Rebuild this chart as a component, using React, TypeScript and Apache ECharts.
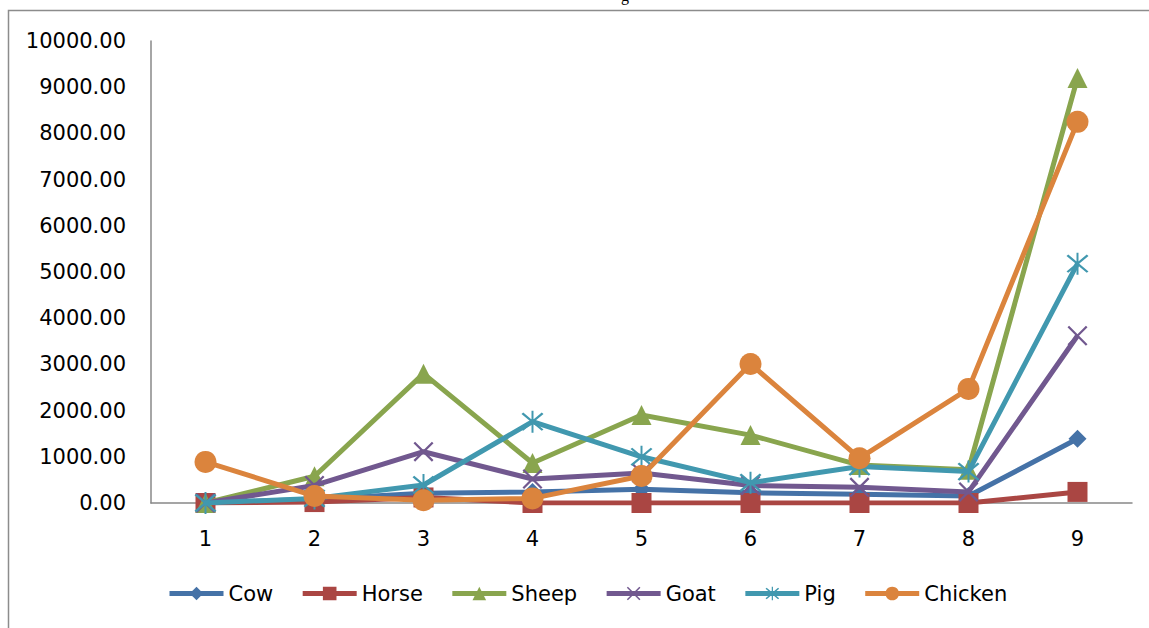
import React, { useEffect, useRef } from "react";
import * as echarts from "echarts";

const categories = ["1", "2", "3", "4", "5", "6", "7", "8", "9"];
const seriesNames = ["Cow", "Horse", "Sheep", "Goat", "Pig", "Chicken"];
const cow = [0, 80, 210, 240, 300, 220, 190, 150, 1390];
const horse = [0, 20, 120, 0, 0, 0, 0, 0, 240];
const sheep = [0, 580, 2800, 865, 1905, 1470, 820, 720, 9200];
const goat = [0, 380, 1110, 520, 650, 380, 340, 240, 3620];
const pig = [0, 100, 390, 1760, 1000, 440, 790, 680, 5180];
const chicken = [890, 150, 60, 100, 585, 3010, 970, 2470, 8250];
const yTicks = { min: 0, max: 10000, interval: 1000 };

const colors = ["#4572A7", "#AA4643", "#89A54E", "#71588F", "#4198AF", "#DB843D"];
const xPath = "path://M0,1.6L1.6,0L20,18.4L18.4,20ZM18.4,0L20,1.6L1.6,20L0,18.4Z";
const starPath = "path://M0,1.6L1.6,0L20,18.4L18.4,20ZM18.4,0L20,1.6L1.6,20L0,18.4ZM9.1,-2H10.9V22H9.1Z";
const symbols = ["diamond", "rect", "triangle", xPath, starPath, "circle"];
const symbolSizes = [18, 20, 20, 20, 22, 22];

export default function App() {
  const ref = useRef<HTMLDivElement>(null);
  useEffect(() => {
    if (!ref.current) return;
    const chart = echarts.init(ref.current, null, { renderer: "svg" });
    const data = [cow, horse, sheep, goat, pig, chicken];
    const font = "DejaVu Sans";
    chart.setOption({
      animation: false,
      color: colors,
      graphic: [
        {
          type: "rect",
          shape: { x: 8.5, y: 10.5, width: 1160, height: 660 },
          style: { fill: "none", stroke: "#8c8c8c", lineWidth: 1.5 },
          silent: true,
        },
        {
          type: "text",
          x: 621,
          y: -13,
          style: { text: "g", fontFamily: "Liberation Serif", fontSize: 16, fill: "#000" },
          silent: true,
        },
      ],
      grid: { left: 151, right: 17, top: 41, bottom: 125, containLabel: false },
      legend: {
        left: 162,
        top: 578,
        itemWidth: 54,
        itemHeight: 17,
        itemGap: 27,
        lineStyle: { width: 5 },
        textStyle: { fontFamily: font, fontSize: 21, color: "#000", padding: [0, 0, 0, 0] },
        data: seriesNames,
      },
      xAxis: {
        type: "category",
        data: categories,
        boundaryGap: true,
        axisLine: { lineStyle: { color: "#888", width: 1.5 } },
        axisTick: { show: false },
        axisLabel: { fontFamily: font, fontSize: 21, color: "#000", margin: 25 },
      },
      yAxis: {
        type: "value",
        min: yTicks.min,
        max: yTicks.max,
        interval: yTicks.interval,
        axisLine: { show: true, lineStyle: { color: "#888", width: 1.5 } },
        axisTick: { show: false },
        splitLine: { show: false },
        axisLabel: {
          fontFamily: font,
          fontSize: 21,
          color: "#000",
          margin: 25,
          formatter: (v: number) => v.toFixed(2),
        },
      },
      series: seriesNames.map((name, i) => ({
        name,
        type: "line",
        data: data[i],
        symbol: symbols[i],
        symbolSize: symbolSizes[i],
        showAllSymbol: true,
        lineStyle: { width: 5, color: colors[i] },
        itemStyle: { color: colors[i] },
        z: 2 + i,
      })),
    });
    return () => chart.dispose();
  }, []);
  return (
    <div
      ref={ref}
      style={{ position: "absolute", left: 0, top: 0, width: 1149, height: 628 }}
    />
  );
}
